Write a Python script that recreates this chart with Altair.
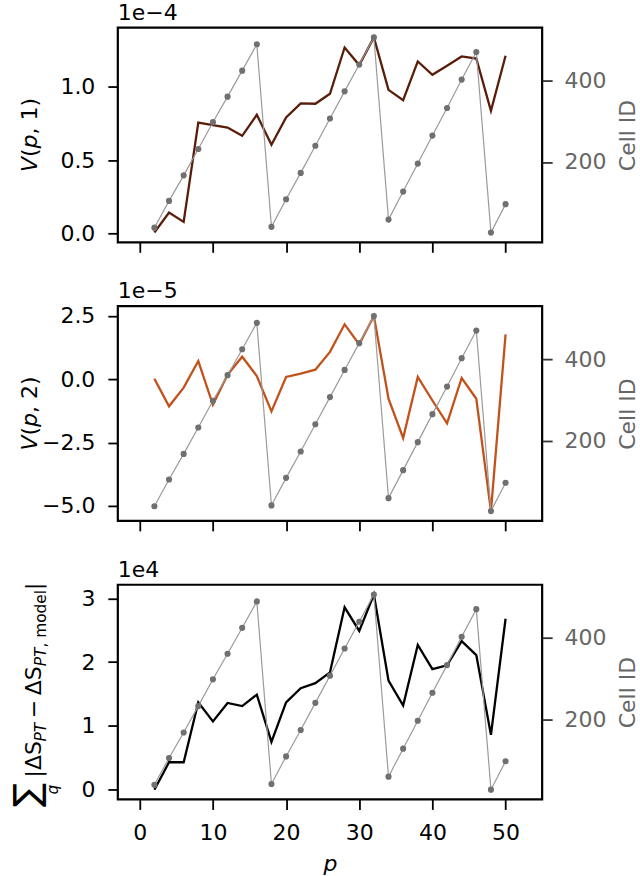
import altair as alt
import pandas as pd

# ---- data -------------------------------------------------------------
p_vals = list(range(2, 51, 2))

cell_id = [38, 104, 167, 232, 298, 361, 425, 490,
           40, 108, 173, 240, 307, 374, 440, 507,
           58, 127, 196, 265, 333, 403, 471,
           26, 96]

# V(p, 1) in units of 1e-4
v1 = [0.005, 0.141, 0.078, 0.756, 0.738, 0.722, 0.665, 0.809, 0.604, 0.790,
      0.886, 0.884, 0.952, 1.268, 1.148, 1.337, 0.979, 0.909, 1.173, 1.082,
      1.143, 1.207, 1.193, 0.836, 1.212]

# V(p, 2) in units of 1e-5
v2 = [0.02, -1.07, -0.33, 0.72, -1.01, 0.18, 0.89, 0.13, -1.27, 0.09,
      0.22, 0.38, 1.08, 2.17, 1.38, 2.50, -0.77, -2.32, 0.09, -0.84,
      -1.74, 0.05, -0.77, -5.21, 1.77]

# summed deviation from the model, in units of 1e4
dev = [0.00, 0.43, 0.43, 1.37, 1.07, 1.36, 1.31, 1.49, 0.75, 1.37,
       1.59, 1.67, 1.84, 2.86, 2.49, 3.06, 1.71, 1.32, 2.27, 1.89,
       1.95, 2.33, 2.11, 0.86, 2.68]

x_ticks = [0, 10, 20, 30, 40, 50]
v1_ticks = [0.0, 0.5, 1.0]
v2_ticks = [-5.0, -2.5, 0.0, 2.5]
dev_ticks = [0, 1, 2, 3]
cell_ticks = [200, 400]
exponents = ["1e\u22124", "1e\u22125", "1e4"]
cell_title = "Cell ID"
x_title = "p"

# ---- styling ----------------------------------------------------------
FONT = "DejaVu Sans"
W, H = 425, 215
X_DOMAIN = [-3, 55]
GRAY_LINE = "#9a9a9a"
GRAY_DOT = "#707070"
AXIS_GRAY = "#666666"


def padded(vals, frac=0.05):
    lo, hi = min(vals), max(vals)
    span = hi - lo
    return [lo - frac * span, hi + frac * span]


def text_piece(txt, x, y, size=22, style="normal", angle=270, color="black"):
    return alt.Chart(pd.DataFrame({"t": [txt]})).mark_text(
        angle=angle, align="left", baseline="alphabetic", font=FONT,
        fontSize=size, fontStyle=style, color=color,
    ).encode(x=alt.value(x), y=alt.value(y), text="t:N")


def v_title(index):
    # rotated "V(p, k)" with italic V and p
    bx = -80.5
    return [
        text_piece("V", bx, 144.6, style="italic"),
        text_piece("(", bx, 129.5),
        text_piece("p", bx, 121.0, style="italic"),
        text_piece(f", {index})", bx, 107.0),
    ]


def dev_title():
    # rotated  sum_q |dS_PT - dS_PT,model|
    mb, sb = -77, -71.5
    ss = 15.4
    return [
        text_piece("\u2211", -79, 222.5, size=36),
        text_piece("q", -59.5, 210.0, size=ss, style="italic"),
        text_piece("|\u0394S", mb, 193.0),
        text_piece("PT", sb, 157.0, size=ss, style="italic"),
        text_piece("\u2212", mb, 133.8),
        text_piece("\u0394S", mb, 110.6),
        text_piece("PT", sb, 81.6, size=ss, style="italic"),
        text_piece(", model", sb, 62.9, size=ss),
        text_piece("|", mb, 5.3),
    ]


def panel(values, color, ticks, fmt, exponent, title_layers, bottom):
    df = pd.DataFrame({"p": p_vals, "value": values, "cell": cell_id})
    base = alt.Chart(df)

    x_axis_kw = dict(values=x_ticks, labels=bottom, tickSize=10, tickWidth=1.8,
                     tickColor="black", domain=False, grid=False,
                     labelFont=FONT, labelFontSize=22, labelColor="black",
                     labelPadding=13)
    if bottom:
        x_axis_kw.update(title=x_title, titleFont=FONT, titleFontSize=22,
                         titleFontStyle="italic", titleFontWeight="normal",
                         titleColor="black", titleY=71.5,
                         titleBaseline="alphabetic")
    else:
        x_axis_kw.update(title=None)
    x_enc = alt.X("p:Q", scale=alt.Scale(domain=X_DOMAIN, nice=False, zero=False),
                  axis=alt.Axis(**x_axis_kw))

    main = base.mark_line(color=color, strokeWidth=2.3).encode(
        x=x_enc,
        y=alt.Y("value:Q",
                scale=alt.Scale(domain=padded(values), nice=False, zero=False),
                axis=alt.Axis(orient="left", values=ticks, format=fmt, title=None,
                              tickSize=10, tickWidth=1.8, tickColor="black",
                              domain=False, grid=False, labelFont=FONT,
                              labelFontSize=22, labelColor="black",
                              labelPadding=13)),
    )

    cells = base.mark_line(
        color=GRAY_LINE, strokeWidth=1.2,
        point=alt.OverlayMarkDef(filled=True, color=GRAY_DOT, size=38, opacity=1),
    ).encode(
        x=x_enc,
        y=alt.Y("cell:Q",
                scale=alt.Scale(domain=padded(cell_id), nice=False, zero=False),
                axis=alt.Axis(orient="right", values=cell_ticks, format="d",
                              title=cell_title, tickSize=10, tickWidth=1.8,
                              tickColor="#333333", domain=False, grid=False,
                              labelFont=FONT, labelFontSize=22,
                              labelColor=AXIS_GRAY, labelPadding=12,
                              titleFont=FONT, titleFontSize=22,
                              titleFontWeight="normal", titleColor=AXIS_GRAY,
                              titleAngle=270, titleX=92.5, titleY=H / 2,
                              titleAlign="center", titleBaseline="alphabetic")),
    )

    exp_label = text_piece(exponent, 0, -8, angle=0)

    return alt.layer(main, cells, exp_label, *title_layers).resolve_scale(
        y="independent"
    ).properties(width=W, height=H)


top = panel(v1, "#5a1d0a", v1_ticks, ".1f", exponents[0], v_title(1), False)
mid = panel(v2, "#c2521b", v2_ticks, ".1f", exponents[1], v_title(2), False)
bot = panel(dev, "black", dev_ticks, "d", exponents[2], dev_title(), True)

chart = alt.vconcat(top, mid, bot, spacing=64, bounds="flush").properties(
    padding={"left": 8, "top": -1, "right": 0, "bottom": 0}
).configure(font=FONT).configure_view(stroke="black", strokeWidth=2.2)

chart.save("out.html", embed_options={"renderer": "svg", "actions": False})
